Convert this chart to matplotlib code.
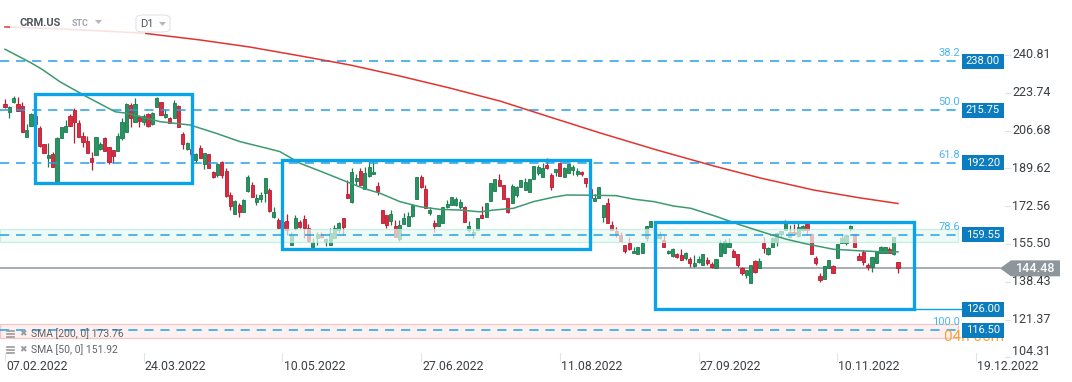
import matplotlib.pyplot as plt
import matplotlib.transforms as mtransforms
from matplotlib.patches import Rectangle, Polygon, FancyBboxPatch
from matplotlib.lines import Line2D

plt.rcParams['font.family'] = ['Roboto', 'DejaVu Sans']

W, H = 1072, 382

# daily candles CRM.US, 07.02.2022 .. 01.12.2022 (index = trading day)
opens = [218.7, 215.2, 219.7, 218.5, 217.8, 203.9, 208.9, 213.3, 208.0, 200.5,
         194.4, 196.1, 182.9, 203.5, 205.9, 213.3, 216.0, 210.0, 204.2, 202.0,
         194.2, 195.7, 198.4, 203.5, 199.1, 197.9, 197.6, 203.5, 205.9, 218.2,
         210.7, 212.9, 210.7, 214.2, 209.5, 217.5, 219.5, 212.9, 212.2, 212.2,
         217.9, 205.1, 198.4, 198.4, 193.4, 198.7, 191.5, 196.1, 188.2, 186.6,
         192.6, 188.4, 177.6, 168.9, 173.1, 169.8, 179.4, 182.1, 174.6, 175.8,
         178.4, 179.9, 167.8, 166.3, 165.4, 165.9, 155.0, 162.6, 165.3, 166.8,
         162.6, 154.2, 158.3, 160.1, 156.5, 155.0, 158.0, 161.8, 167.1, 177.9,
         174.6, 183.9, 188.6, 180.2, 186.2, 186.9, 181.7, 170.8, 168.6, 166.0,
         163.6, 157.6, 164.5, 163.6, 168.1, 175.6, 185.9, 180.2, 169.6, 165.1,
         163.6, 165.1, 172.3, 173.1, 173.1, 172.3, 172.0, 161.8, 159.7, 161.8,
         168.6, 167.8, 175.0, 179.5, 184.4, 182.1, 176.1, 174.1, 177.6, 181.1,
         179.9, 179.1, 184.7, 187.4, 185.9, 191.1, 186.6, 188.2, 192.2, 185.6,
         187.7, 188.9, 187.1, 188.2, 185.1, 180.2, 175.0, 176.1, 167.8, 173.8,
         164.0, 161.5, 159.5, 155.0, 156.1, 151.3, 150.9, 151.5, 158.0, 163.0,
         158.2, 158.0, 157.3, 151.3, 150.0, 150.9, 150.5, 149.0, 148.6, 145.5,
         147.3, 146.0, 148.2, 146.4, 144.5, 150.0, 151.5, 154.2, 152.4, 150.9,
         144.5, 141.5, 138.0, 147.8, 144.5, 155.8, 150.8, 154.0, 156.5, 160.0,
         161.8, 158.8, 161.0, 159.1, 161.8, 164.5, 160.0, 149.0, 141.0, 139.5,
         144.5, 145.5, 149.3, 155.8, 156.1, 162.1, 160.0, 150.0, 152.0, 146.0,
         144.9, 146.7, 151.3, 151.5, 153.1, 150.9, 147.5]
highs = [220.9, 217.8, 222.3, 221.7, 219.5, 209.5, 214.6, 214.2, 208.7, 200.6,
         200.9, 197.1, 203.8, 208.3, 211.5, 214.0, 216.7, 211.5, 206.2, 204.2,
         197.1, 203.9, 201.4, 203.9, 199.3, 197.9, 205.5, 212.2, 219.3, 219.0,
         221.3, 213.7, 214.0, 214.5, 215.2, 221.8, 219.7, 216.4, 212.9, 220.5,
         218.2, 206.0, 201.7, 199.3, 196.4, 200.2, 196.4, 196.1, 188.4, 191.9,
         192.9, 189.6, 179.1, 175.3, 173.8, 175.8, 186.6, 183.6, 177.9, 179.1,
         185.3, 180.6, 172.3, 167.1, 168.1, 169.2, 161.0, 168.6, 166.3, 168.6,
         164.4, 158.0, 161.0, 161.0, 158.3, 162.6, 164.0, 165.3, 167.1, 184.4,
         189.6, 186.9, 189.6, 190.4, 192.6, 192.6, 183.6, 170.8, 168.6, 170.8,
         166.3, 166.3, 169.3, 170.1, 173.1, 185.7, 186.6, 182.1, 172.3, 166.3,
         168.6, 172.0, 175.3, 176.6, 176.6, 175.6, 172.6, 166.0, 162.1, 167.1,
         172.6, 173.8, 183.2, 184.8, 187.1, 182.1, 176.1, 182.6, 181.7, 184.4,
         185.1, 184.7, 190.7, 191.1, 191.9, 194.2, 187.4, 189.2, 192.5, 190.2,
         192.2, 191.1, 189.6, 188.6, 185.3, 180.3, 178.0, 181.2, 173.1, 176.1,
         166.0, 163.3, 161.0, 155.0, 158.5, 154.2, 154.0, 156.5, 163.6, 165.9,
         161.8, 161.5, 159.5, 152.8, 153.5, 151.5, 153.1, 152.0, 149.5, 150.5,
         150.0, 150.9, 149.5, 147.5, 148.6, 157.3, 157.6, 158.0, 153.1, 150.9,
         145.2, 143.7, 146.0, 148.2, 149.0, 158.8, 154.0, 158.5, 160.6, 161.5,
         166.3, 164.0, 164.5, 165.9, 164.0, 165.9, 160.3, 150.0, 142.2, 145.5,
         148.2, 146.0, 155.3, 160.0, 160.0, 164.0, 160.0, 151.5, 152.8, 146.7,
         149.5, 152.4, 154.6, 154.2, 154.0, 158.5, 147.5]
lows = [216.7, 212.2, 219.1, 215.7, 206.2, 203.9, 208.7, 208.7, 199.4, 196.4,
        190.4, 190.4, 182.6, 203.3, 205.9, 208.9, 200.9, 203.9, 199.4, 196.4,
        188.9, 195.7, 197.9, 197.6, 191.5, 192.2, 197.6, 202.4, 205.9, 208.4,
        210.7, 208.4, 209.2, 208.4, 209.2, 217.5, 213.7, 212.2, 210.0, 212.2,
        208.4, 198.2, 197.9, 195.2, 191.9, 194.4, 189.2, 189.6, 185.4, 185.9,
        185.4, 176.8, 170.8, 168.9, 167.5, 169.8, 179.1, 176.8, 173.1, 174.6,
        174.6, 170.1, 167.1, 162.3, 160.9, 159.5, 155.0, 161.8, 162.6, 158.3,
        156.5, 154.2, 155.0, 158.0, 154.7, 155.0, 158.0, 160.3, 159.5, 176.1,
        173.9, 182.1, 182.1, 180.2, 185.9, 186.9, 177.6, 165.1, 162.6, 164.0,
        158.8, 157.0, 164.5, 163.6, 167.7, 175.6, 180.6, 171.6, 168.6, 161.0,
        163.6, 165.1, 171.6, 173.1, 172.6, 171.1, 165.5, 161.0, 158.0, 161.8,
        167.3, 167.8, 175.0, 179.5, 181.7, 175.6, 169.6, 173.9, 176.8, 181.1,
        179.9, 179.1, 184.7, 186.6, 185.9, 189.2, 179.9, 186.2, 186.2, 185.6,
        187.7, 186.6, 186.2, 186.2, 181.3, 175.8, 175.0, 176.1, 165.5, 164.8,
        161.8, 158.5, 156.5, 151.3, 152.8, 151.3, 150.9, 151.5, 157.0, 163.0,
        157.3, 157.6, 154.2, 150.9, 149.7, 149.0, 148.2, 148.2, 144.9, 145.2,
        146.7, 146.0, 146.0, 144.5, 144.5, 150.0, 151.3, 154.2, 149.5, 144.9,
        141.5, 140.0, 138.0, 142.5, 144.5, 151.5, 150.5, 154.0, 154.6, 158.5,
        161.8, 158.8, 160.0, 158.8, 161.5, 159.5, 150.9, 146.0, 138.4, 139.5,
        144.5, 142.2, 149.3, 155.8, 155.0, 161.5, 154.2, 148.2, 146.0, 143.7,
        143.0, 146.7, 151.3, 151.5, 151.3, 150.5, 142.5]
closes = [217.5, 217.2, 221.3, 215.7, 206.2, 206.9, 214.0, 209.6, 199.7, 196.7,
          195.7, 190.4, 203.5, 208.2, 208.9, 208.9, 210.7, 203.9, 201.4, 196.7,
          192.6, 203.6, 200.6, 197.6, 192.4, 195.3, 204.2, 210.7, 218.5, 212.2,
          218.7, 211.1, 213.4, 208.9, 214.7, 221.5, 213.7, 214.0, 210.2, 219.0,
          208.4, 200.5, 200.9, 196.1, 196.1, 194.4, 196.4, 189.6, 185.9, 191.5,
          186.6, 177.1, 172.8, 174.9, 170.1, 175.3, 185.9, 176.8, 176.4, 177.6,
          185.1, 170.4, 170.1, 162.8, 162.7, 161.8, 159.5, 167.1, 163.3, 162.8,
          156.8, 156.5, 159.9, 158.8, 157.7, 160.3, 162.6, 164.8, 163.3, 176.1,
          187.9, 185.4, 182.1, 187.7, 190.4, 188.0, 179.5, 165.1, 164.0, 169.0,
          158.8, 164.0, 167.1, 168.1, 173.1, 185.6, 181.1, 171.6, 170.8, 163.6,
          168.6, 172.0, 173.5, 176.6, 175.6, 174.6, 165.5, 163.6, 160.9, 167.1,
          167.3, 173.8, 183.2, 184.8, 181.7, 175.6, 170.1, 181.7, 181.1, 184.4,
          183.5, 184.7, 190.7, 190.4, 189.6, 189.6, 181.3, 189.2, 186.2, 189.6,
          191.6, 190.4, 188.6, 187.1, 182.9, 176.1, 176.1, 181.1, 173.1, 164.8,
          161.8, 159.5, 157.0, 152.4, 153.1, 152.4, 154.0, 156.1, 163.6, 165.9,
          160.4, 160.0, 154.2, 152.3, 153.1, 149.5, 148.2, 151.3, 146.7, 146.7,
          148.6, 150.9, 146.7, 145.0, 148.6, 156.1, 157.0, 156.1, 149.7, 146.0,
          142.2, 143.7, 146.0, 143.0, 147.9, 153.5, 153.5, 158.0, 160.3, 161.5,
          165.1, 161.0, 160.0, 163.3, 163.6, 161.8, 150.9, 146.7, 139.2, 145.5,
          148.2, 142.5, 155.3, 158.3, 159.5, 163.6, 154.2, 148.2, 147.5, 144.9,
          149.5, 152.4, 154.0, 154.2, 151.5, 158.5, 144.48]

# moving averages, read at points along the lines (x = candle index)
sma50_x = [0, 5.8, 8.5, 12.7, 18.8, 25.4, 28.1, 35.8, 42.7, 48.8, 54.2, 60.4, 63.4,
           68.1, 75.0, 78.8, 82.7, 86.5, 91.1, 95.7, 100.3, 105.0, 109.6, 112.7,
           117.3, 121.9, 126.5, 129.6, 135.0, 141.0, 145.1, 149.7, 154.3, 158.2,
           164.1, 169.6, 175.7, 180.3, 184.9, 191.1, 197.2, 201.8, 206]
sma50_y = [243.4, 237.5, 234.4, 228.7, 222.0, 215.2, 214.5, 210.7, 209.2, 205.4, 201.7,
           198.7, 197.2, 191.9, 186.6, 183.6, 180.6, 178.4, 174.6, 172.3, 171.1,
           170.8, 170.0, 170.8, 171.6, 174.6, 176.6, 177.6, 177.5, 177.3, 175.7,
           174.6, 172.6, 171.6, 167.9, 164.1, 160.3, 157.6, 155.5, 153.1, 152.4,
           152.0, 151.92]
sma200_x = [0, 12.7, 31.8, 45.0, 56.5, 68.1, 79.6, 91.1, 102.6, 114.2, 125.7, 137.3,
            150.4, 163.5, 174.2, 186.4, 197.2, 206]
sma200_y = [253.5, 252.6, 250.7, 247.6, 244.4, 240.4, 236.3, 231.3, 225.9, 220.0,
            212.8, 205.6, 197.9, 190.7, 185.3, 179.9, 176.3, 173.76]

fib_names = ['38.2', '50.0', '61.8', '78.6', '100.0']
fib_levels = [238.00, 215.75, 192.20, 159.55, 116.50]
box_level = 126.00
last_price = 144.48

axis_ticks = [240.81, 223.74, 206.68, 189.62, 172.56, 155.50, 138.43, 121.37, 104.31]
date_pos = [0, 32, 64, 96, 128, 160, 192, 224]
date_labels = ['07.02.2022', '24.03.2022', '10.05.2022', '27.06.2022',
               '11.08.2022', '27.09.2022', '10.11.2022', '19.12.2022']

# consolidation boxes: (start idx, end idx, low, high)
boxes = [(7.0, 43.1, 183.2, 223.0), (63.9, 135.0, 153.3, 193.2), (150.0, 209.7, 126.0, 165.5)]

GREEN, GREEN_E = '#279461', '#1b7a4e'
RED, RED_E = '#dc2a40', '#b81d31'
BLUE = '#0aa3ea'
FIB = '#24a1e6'
LBL = '#0c7cc0'

fig = plt.figure(figsize=(W / 100, H / 100), dpi=100)
ax = fig.add_axes([0, 0, 1, 1])
ax.set_xlim(-5 / 4.335, (W - 5) / 4.335)
ax.set_ylim(265.64 - 0.4515 * H, 265.64)
ax.axis('off')

ppx = 0.4515  # price per pixel
fx = mtransforms.blended_transform_factory(fig.transFigure, ax.transData)
dfy = mtransforms.blended_transform_factory(ax.transData, fig.transFigure)

# last price line
ax.plot([0, 1000 / W], [last_price, last_price], color='#8d979d', lw=1.1, transform=fx, zorder=2)

# candles
for i, (o, h, l, c) in enumerate(zip(opens, highs, lows, closes)):
    up = c >= o
    fc, ec = (GREEN, GREEN_E) if up else (RED, RED_E)
    ax.vlines(i, l, h, color=ec, lw=0.9, zorder=3)
    lo, hi = min(o, c), max(o, c)
    if hi - lo < ppx:
        hi = lo + ppx
    ax.add_patch(Rectangle((i - 0.36, lo), 0.72, hi - lo, facecolor=fc,
                           edgecolor=ec, lw=0.6, zorder=3.5))

# fibo bands
for lev, fc, bc in [(159.55, '#e8f9f2', '#b5eadb'), (116.50, '#fdeaea', '#f3b2b2')]:
    ax.add_patch(Rectangle((0, lev - 6.5 * ppx - 0.4), 958 / W, 13.5 * ppx, transform=fx,
                           facecolor=fc, edgecolor=bc, lw=0.9, alpha=0.7, zorder=4))

# fibo lines
for name, lev in zip(fib_names, fib_levels):
    ax.plot([0, 958 / W], [lev, lev], color=FIB, lw=1.1, ls=(0, (6, 4.5)), transform=fx, zorder=4.5)
    ax.text(960 / W, lev + 8 * ppx, name, transform=fx, ha='right', va='center',
            fontsize=8, color='#4cb5f0', zorder=7)

# moving averages
ax.plot(sma200_x, sma200_y, color='#e2342f', lw=1.1, zorder=5)
ax.plot(sma50_x, sma50_y, color='#3c9a70', lw=1.1, zorder=5)

# boxes
for x0, x1, y0, y1 in boxes:
    ax.add_patch(Rectangle((x0, y0), x1 - x0, y1 - y0, fill=False, edgecolor=BLUE,
                           lw=2.4, joinstyle='miter', zorder=6))
ax.plot([914 / W, 962 / W], [box_level, box_level], color=BLUE, lw=1, transform=fx, zorder=6)

# orange timer (mostly behind the label)
ax.text(944 / W, 116.50 - 7 * ppx, '04h 06m', transform=fx, ha='left', va='center',
        fontsize=11, color='#f5a33b', zorder=7)

# price label boxes
for lev in fib_levels + [box_level]:
    ax.add_patch(Rectangle((962 / W, lev - 7.5 * ppx), 42 / W, 15 * ppx, transform=fx,
                           facecolor=LBL, edgecolor='none', zorder=8))
    ax.text(983 / W, lev, f'{lev:.2f}', transform=fx, ha='center', va='center',
            fontsize=8, color='white', zorder=9)

# right axis
for t in axis_ticks:
    tr = fx
    if t < 110:
        tr = mtransforms.offset_copy(fx, fig=fig, y=4, units='points')
    ax.plot([1005 / W, 1010 / W], [t, t], color='#e2e2e2', lw=0.8, transform=fx, zorder=2)
    ax.text(1012 / W, t, f'{t:.2f}', transform=tr, ha='left', va='center',
            fontsize=9, color='#3a3f44', zorder=9)

# last price arrow label
hh = 8 * ppx
ax.add_patch(Polygon([(1000 / W, last_price), (1011 / W, last_price + hh), (1060 / W, last_price + hh),
                      (1060 / W, last_price - hh), (1011 / W, last_price - hh)],
                     closed=True, transform=fx, facecolor='#8c969c', edgecolor='none', zorder=8))
ax.text(1036 / W, last_price, f'{last_price:.2f}', transform=fx, ha='center', va='center',
        fontsize=9, color='white', fontweight='medium', zorder=9)

# date axis
for p, lab in zip(date_pos, date_labels):
    ax.plot([p, p], [1 - 353 / H, 1 - 361 / H], color='#e4e4e4', lw=0.8, transform=dfy, zorder=2)
    ax.text(p + 0.25, 1 - 366 / H, lab, transform=dfy, ha='left', va='center',
            fontsize=8.8, color='#3a3f44')

# header with white veil over the top-left
fig.patches.append(Rectangle((10 / W, 1 - 40 / H), 135 / W, 40 / H, transform=fig.transFigure,
                             facecolor='white', alpha=0.85, edgecolor='none', zorder=10))
fig.text(20 / W, 1 - 23 / H, 'CRM.US', fontsize=8, fontweight='bold', color='#50565c',
         va='center', zorder=11)
fig.text(72 / W, 1 - 24 / H, 'STC', fontsize=6.5, fontweight='bold', color='#a0a5aa',
         va='center', zorder=11)
fig.patches.append(Polygon([(95 / W, 1 - 20 / H), (102 / W, 1 - 20 / H), (98.5 / W, 1 - 24 / H)],
                           closed=True, transform=fig.transFigure, facecolor='#b4b8bc',
                           edgecolor='none', zorder=11))
fig.patches.append(FancyBboxPatch((136 / W, 1 - 32 / H), 34 / W, 17 / H,
                                  boxstyle='round,pad=0,rounding_size=0.008',
                                  transform=fig.transFigure, facecolor='white',
                                  edgecolor='#e2e4e7', lw=0.8, zorder=11))
fig.text(140 / W, 1 - 24 / H, 'D1', fontsize=8, color='#50565c', va='center', zorder=12)
fig.patches.append(Polygon([(159 / W, 1 - 22 / H), (166 / W, 1 - 22 / H), (162.5 / W, 1 - 26 / H)],
                           closed=True, transform=fig.transFigure, facecolor='#b4b8bc',
                           edgecolor='none', zorder=12))

# indicator legend
for k, txt in enumerate(['SMA [200, 0] 173.76', 'SMA [50, 0] 151.92']):
    yc = 334 + 16 * k
    for dy in (-3, 0, 3):
        fig.lines.append(Line2D([7 / W, 14 / W], [1 - (yc + dy) / H] * 2, transform=fig.transFigure,
                                color='#9a9a9a', lw=1.2, zorder=11))
    fig.text(19 / W, 1 - yc / H, '\u2716', fontsize=6.5, color='#9a9a9a', va='center',
             family=['DejaVu Sans'], zorder=11)
    fig.text(31 / W, 1 - yc / H, txt, fontsize=7.5, color='#5f6368', va='center', zorder=11)

fig.savefig('out.png', dpi=100)
